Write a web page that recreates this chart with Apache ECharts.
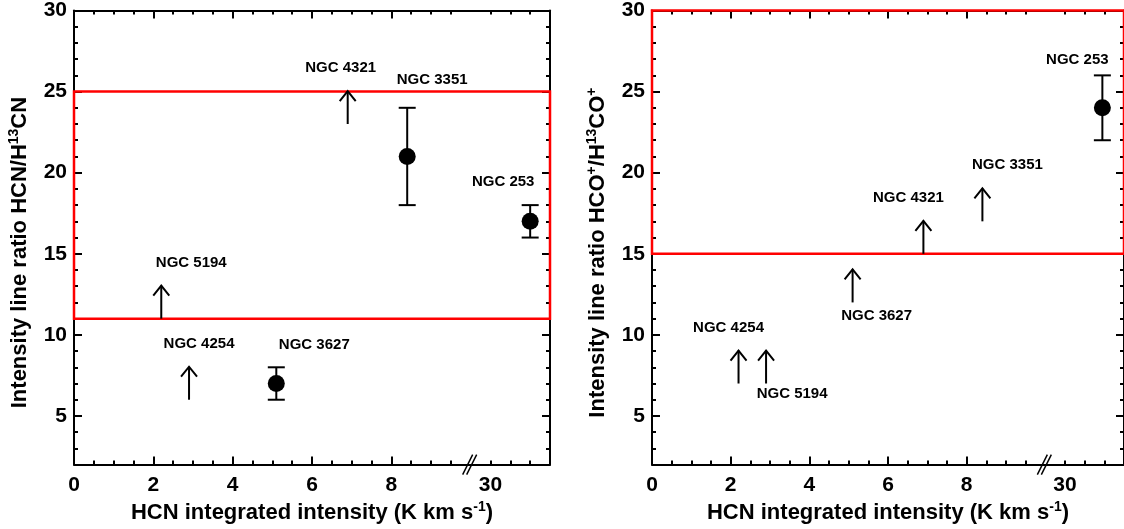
<!DOCTYPE html>
<html>
<head>
<meta charset="utf-8">
<script src="https://cdn.jsdelivr.net/npm/echarts@6/dist/echarts.min.js"></script>
<style>
  html, body { margin: 0; padding: 0; background: #fff; }
  #main { width: 1124px; height: 529px; }
</style>
</head>
<body>
<div id="main"></div>
<script>
// x positions are in plot units; past the break (at 10) the scale is compressed, 10.5 = 30
var xTickPos = [0, 2, 4, 6, 8, 10.5];
var xTickText = ['0', '2', '4', '6', '8', '30'];
var yTickPos = [5, 10, 15, 20, 25, 30];
var breakX = 10;

// left: HCN/H13CN
var leftDetNames = ['NGC 3627', 'NGC 3351', 'NGC 253'];
var leftDetX = [5.1, 8.4, 11.5];
var leftDetY = [7, 21, 17];
var leftDetLo = [6, 18, 16];
var leftDetHi = [8, 24, 18];
var leftLimNames = ['NGC 5194', 'NGC 4254', 'NGC 4321'];
var leftLimX = [2.2, 2.9, 6.9];
var leftLimY = [11, 6, 23];
var leftBox = [11, 25];

// right: HCO+/H13CO+
var rightDetNames = ['NGC 253'];
var rightDetX = [11.45];
var rightDetY = [24];
var rightDetLo = [22];
var rightDetHi = [26];
var rightLimNames = ['NGC 4254', 'NGC 5194', 'NGC 3627', 'NGC 4321', 'NGC 3351'];
var rightLimX = [2.2, 2.9, 5.1, 6.9, 8.4];
var rightLimY = [7, 7, 12, 15, 17];
var rightBox = [15, 30];

// label offsets (px) from the mark
var labelOffset = {
    L: {'NGC 5194': [30, -56], 'NGC 4254': [10, -56], 'NGC 3627': [38, -39],
        'NGC 4321': [-7, -56], 'NGC 3351': [25, -77], 'NGC 253': [-27, -39]},
    R: {'NGC 4254': [-10, -56], 'NGC 5194': [26, 10], 'NGC 3627': [24, 13],
        'NGC 4321': [-15, -56], 'NGC 3351': [25, -56], 'NGC 253': [-25, -48]}
};

var FONT = 'Liberation Sans';
var black = '#000';

var myChart = echarts.init(document.getElementById('main'));

var supStyle = {fontSize: 14, fontFamily: FONT, fontWeight: 'bold', color: black, verticalAlign: 'top', padding: [0, 0, 11, 0]};

function xAxes(g, name) {
    var base = {
        gridIndex: g, type: 'value', min: 0, max: 12, interval: 2,
        splitLine: {show: false},
        axisLine: {lineStyle: {color: black, width: 2}},
        axisTick: {inside: true, length: 8, customValues: [0, 2, 4, 6, 8], lineStyle: {color: black, width: 2}},
        minorTick: {show: true, splitNumber: 4, length: 4, lineStyle: {color: black, width: 2}}
    };
    var bottom = echarts.util.merge({
        position: 'bottom',
        axisLabel: {
            customValues: xTickPos,
            formatter: function (v) { return xTickText[xTickPos.indexOf(v)]; },
            color: black, fontFamily: FONT, fontWeight: 'bold', fontSize: 21, margin: 10
        },
        name: name, nameLocation: 'middle', nameGap: 32,
        nameTextStyle: {
            color: black, fontFamily: FONT, fontWeight: 'bold', fontSize: 22,
            rich: {sup: supStyle}
        }
    }, base, true);
    var top = echarts.util.merge({position: 'top', axisLabel: {show: false}}, base, true);
    return [bottom, top];
}

function yAxes(g, name) {
    var minor = {
        gridIndex: g, type: 'value', min: 2, max: 30, interval: 1,
        splitLine: {show: false},
        axisLine: {lineStyle: {color: black, width: 2}},
        axisTick: {inside: true, length: 4, lineStyle: {color: black, width: 2}}
    };
    var major = {
        gridIndex: g, type: 'value', min: 2, max: 30, interval: 1,
        splitLine: {show: false},
        axisLine: {show: false},
        axisLabel: {show: false},
        axisTick: {inside: true, length: 8, customValues: yTickPos, lineStyle: {color: black, width: 2}}
    };
    var leftMinor = echarts.util.merge({
        position: 'left',
        axisLabel: {customValues: yTickPos, color: black, fontFamily: FONT, fontWeight: 'bold', fontSize: 21, margin: 7},
        name: name, nameLocation: 'middle', nameGap: 42,
        nameTextStyle: {
            color: black, fontFamily: FONT, fontWeight: 'bold', fontSize: 22, padding: [0, 30, 0, 0],
            rich: {sup: supStyle}
        }
    }, minor, true);
    var leftMajor = echarts.util.merge({position: 'left'}, major, true);
    var rightMinor = echarts.util.merge({position: 'right', axisLabel: {show: false}}, minor, true);
    var rightMajor = echarts.util.merge({position: 'right'}, major, true);
    return [leftMinor, leftMajor, rightMinor, rightMajor];
}

function limitSeries(g, names, xs, ys, side) {
    return {
        type: 'custom', xAxisIndex: g * 2, yAxisIndex: g * 4, clip: false, z: 5,
        data: xs.map(function (x, i) { return [x, ys[i], i]; }),
        renderItem: function (params, api) {
            var p = api.coord([api.value(0), api.value(1)]);
            var name = names[api.value(2)];
            var off = labelOffset[side][name];
            var tipY = p[1] - 33;
            return {
                type: 'group',
                children: [
                    {type: 'line', shape: {x1: p[0], y1: p[1], x2: p[0], y2: tipY}, style: {stroke: black, lineWidth: 2}},
                    {type: 'polyline', shape: {points: [[p[0] - 8, tipY + 10], [p[0], tipY], [p[0] + 8, tipY + 10]]}, style: {stroke: black, fill: null, lineWidth: 2}},
                    {type: 'text', x: p[0] + off[0], y: p[1] + off[1], style: {text: name, fill: black, font: 'bold 15px ' + FONT, align: 'center', verticalAlign: 'middle'}}
                ]
            };
        }
    };
}

function detSeries(g, names, xs, ys, lo, hi, side) {
    return [{
        type: 'custom', xAxisIndex: g * 2, yAxisIndex: g * 4, clip: false, z: 5,
        data: xs.map(function (x, i) { return [x, lo[i], hi[i], ys[i], i]; }),
        renderItem: function (params, api) {
            var a = api.coord([api.value(0), api.value(1)]);
            var b = api.coord([api.value(0), api.value(2)]);
            var p = api.coord([api.value(0), api.value(3)]);
            var name = names[api.value(4)];
            var off = labelOffset[side][name];
            var st = {stroke: black, lineWidth: 2};
            return {
                type: 'group',
                children: [
                    {type: 'line', shape: {x1: a[0], y1: a[1], x2: b[0], y2: b[1]}, style: st},
                    {type: 'line', shape: {x1: a[0] - 8.5, y1: a[1], x2: a[0] + 8.5, y2: a[1]}, style: st},
                    {type: 'line', shape: {x1: b[0] - 8.5, y1: b[1], x2: b[0] + 8.5, y2: b[1]}, style: st},
                    {type: 'text', x: p[0] + off[0], y: p[1] + off[1], style: {text: name, fill: black, font: 'bold 15px ' + FONT, align: 'center', verticalAlign: 'middle'}}
                ]
            };
        }
    }, {
        type: 'scatter', xAxisIndex: g * 2, yAxisIndex: g * 4, clip: false, z: 6,
        symbol: 'circle', symbolSize: 17, itemStyle: {color: black, opacity: 1},
        data: xs.map(function (x, i) { return [x, ys[i]]; })
    }];
}

function boxSeries(g, box) {
    return {
        type: 'custom', xAxisIndex: g * 2, yAxisIndex: g * 4, clip: false, z: 4,
        data: [[breakX, 2]],
        renderItem: function (params, api) {
            var p = api.coord([api.value(0), api.value(1)]);
            var st = {stroke: black, lineWidth: 1.5};
            return {
                type: 'group',
                children: [
                    {type: 'line', shape: {x1: p[0] - 8, y1: p[1] + 10, x2: p[0] + 2, y2: p[1] - 10}, style: st},
                    {type: 'line', shape: {x1: p[0] - 4, y1: p[1] + 10, x2: p[0] + 6, y2: p[1] - 10}, style: st}
                ]
            };
        },
        markArea: {
            silent: true,
            itemStyle: {color: 'rgba(0,0,0,0)', borderColor: '#ff0000', borderWidth: 2.5},
            data: [[{xAxis: 0, yAxis: box[0]}, {xAxis: 12, yAxis: box[1]}]]
        }
    };
}

var xName = 'HCN integrated intensity (K km s{sup|-1})';

var option = {
    animation: false,
    backgroundColor: '#fff',
    grid: [
        {left: 74, top: 5, width: 476, height: 460},
        {left: 652, top: 5, width: 476, height: 460}
    ],
    xAxis: xAxes(0, xName).concat(xAxes(1, xName)),
    yAxis: yAxes(0, 'Intensity line ratio HCN/H{sup|13}CN')
        .concat(yAxes(1, 'Intensity line ratio HCO{sup|+}/H{sup|13}CO{sup|+}')),
    series: [
        boxSeries(0, leftBox),
        limitSeries(0, leftLimNames, leftLimX, leftLimY, 'L'),
        boxSeries(1, rightBox),
        limitSeries(1, rightLimNames, rightLimX, rightLimY, 'R')
    ].concat(detSeries(0, leftDetNames, leftDetX, leftDetY, leftDetLo, leftDetHi, 'L'))
     .concat(detSeries(1, rightDetNames, rightDetX, rightDetY, rightDetLo, rightDetHi, 'R'))
};

myChart.setOption(option);
</script>
</body>
</html>
